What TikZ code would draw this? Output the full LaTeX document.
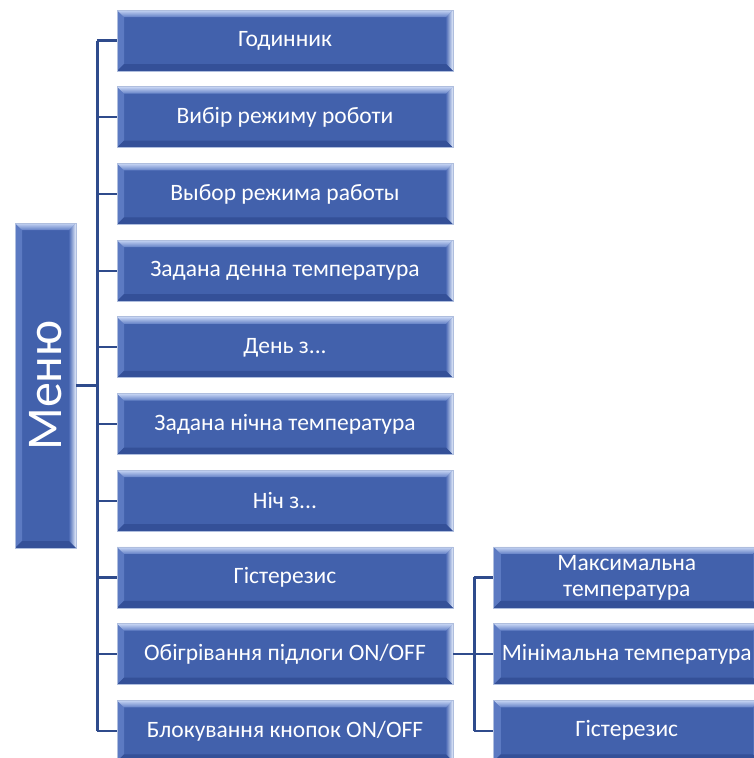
\documentclass[tikz,border=0pt]{standalone}
\usepackage{fontspec}
\setmainfont{Carlito}
\usetikzlibrary{positioning}

\definecolor{boxfill}{RGB}{66,97,172}
\definecolor{boxedge}{RGB}{175,190,222}
\definecolor{bevtopA}{RGB}{200,214,244}
\definecolor{bevtopB}{RGB}{98,128,198}
\definecolor{bevleft}{RGB}{92,122,194}
\definecolor{bevrightA}{RGB}{78,108,182}
\definecolor{bevrightB}{RGB}{230,238,252}
\definecolor{bevbot}{RGB}{52,80,152}
\definecolor{link}{RGB}{47,75,140}

\begin{document}
\begin{tikzpicture}[
    x=1pt, y=-1pt,
    box/.style={
        draw=boxedge, line width=0.8pt,
        fill=boxfill,
        text=white,
        align=center,
        inner sep=2pt,
        font=\fontsize{23.5}{26}\selectfont,
        minimum width=336pt,
        minimum height=61pt,
        path picture={
            \path (path picture bounding box.north west) coordinate (pnw)
                  (path picture bounding box.north east) coordinate (pne)
                  (path picture bounding box.south west) coordinate (psw)
                  (path picture bounding box.south east) coordinate (pse);
            \fill[bevleft] (pnw) -- ([xshift=7pt,yshift=-7pt]pnw)
                -- ([xshift=7pt,yshift=7pt]psw) -- (psw) -- cycle;
            \shade[left color=bevrightA, right color=bevrightB]
                (pne) -- ([xshift=-7pt,yshift=-7pt]pne)
                -- ([xshift=-7pt,yshift=7pt]pse) -- (pse) -- cycle;
            \fill[bevbot] (psw) -- (pse) -- ([xshift=-7pt,yshift=7pt]pse)
                -- ([xshift=7pt,yshift=7pt]psw) -- cycle;
            \shade[top color=bevtopA, bottom color=bevtopB]
                (pnw) -- (pne) -- ([xshift=-7pt,yshift=-7pt]pne)
                -- ([xshift=7pt,yshift=-7pt]pnw) -- cycle;
        }
    },
    subbox/.style={box, minimum width=266pt},
    link/.style={draw=link, line width=2.2pt}
]
\useasboundingbox (0,0) rectangle (754,758);

\node[box, minimum width=61pt, minimum height=325pt] (menu) at (45.5,385.5)
    {\rotatebox{90}{\fontsize{50}{60}\selectfont Меню}};

\node[box] (g1) at (285,40.5) {Годинник};
\node[box, below=14.9pt of g1] (g2) {Вибір режиму роботи};
\node[box, below=14.9pt of g2] (g3) {Выбор режима работы};
\node[box, below=14.9pt of g3] (g4) {Задана денна температура};
\node[box, below=14.9pt of g4] (g5) {День з...};
\node[box, below=14.9pt of g5] (g6) {Задана нічна температура};
\node[box, below=14.9pt of g6] (g7) {Ніч з...};
\node[box, below=14.9pt of g7] (g8) {Гістерезис};
\node[box, below=14.9pt of g8] (g9) {Обігрівання підлоги ON/OFF};
\node[box, below=14.9pt of g9] (g10) {Блокування кнопок ON/OFF};

\node[subbox, right=40pt of g9.east, anchor=west, yshift=76.7pt] (s1)
    {Максимальна\\температура};
\node[subbox, below=14.9pt of s1] (s2) {Мінімальна температура};
\node[subbox, below=14.9pt of s2] (s3) {Гістерезис};

% main trunk
\coordinate[right=21pt of menu] (trunk);
\draw[link, line width=3.2pt] (menu.east) -- (trunk);
\draw[link] (trunk |- g1.west) -- (trunk |- g10.west);
\foreach \n in {g1,g2,g3,g4,g5,g6,g7,g8,g9,g10}
    \draw[link] (trunk |- \n.west) -- (\n.west);

% floor heating branch
\coordinate[right=21pt of g9] (subtrunk);
\draw[link] (g9.east) -- (subtrunk);
\draw[link] (subtrunk |- s1.west) -- (subtrunk |- s3.west);
\foreach \n in {s1,s2,s3}
    \draw[link] (subtrunk |- \n.west) -- (\n.west);
\end{tikzpicture}
\end{document}
